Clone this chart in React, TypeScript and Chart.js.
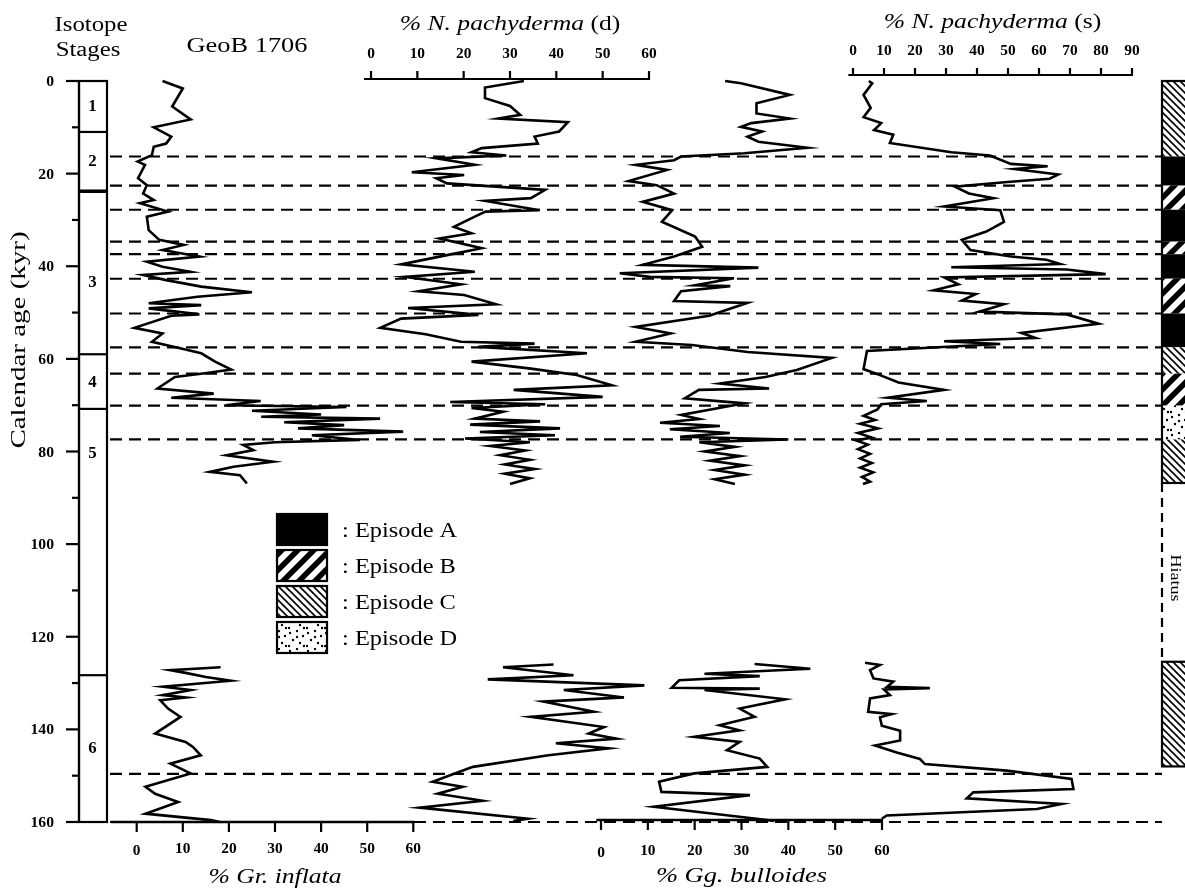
import React, { useEffect, useRef } from 'react';
import { Chart, registerables } from 'chart.js';

Chart.register(...registerables);

// ---------------- data ----------------
const ageTicks = [0, 20, 40, 60, 80, 100, 120, 140, 160];
const ageMinorTicks = [10, 30, 50, 70, 90, 110, 130, 150];
const pctTicks60 = [0, 10, 20, 30, 40, 50, 60];
const pctTicks90 = [0, 10, 20, 30, 40, 50, 60, 70, 80, 90];

const stageBounds = [11, 23.8, 59, 70.8, 128.3];
const stageNames = ['1', '2', '3', '4', '5', '6'];
const stageNameAges = [5.2, 17, 43.2, 64.8, 80, 143.8];

const dashAges = [16.3, 22.6, 27.8, 34.7, 37.4, 42.7, 50.2, 57.5, 63.2, 70.1, 77.4, 149.6, 160];

const episodeFrom = [0, 16.3, 22.6, 27.8, 34.7, 37.4, 42.7, 50.2, 57.5, 63.2, 70.1, 77.4, 125.4];
const episodeTo = [16.3, 22.6, 27.8, 34.7, 37.4, 42.7, 50.2, 57.5, 63.2, 70.1, 77.4, 86.8, 148];
const episodeKind = ['C', 'A', 'B', 'A', 'B', 'A', 'B', 'A', 'C', 'B', 'D', 'C', 'C'];
const hiatusAges = [86.8, 125.4];
const hiatusLabelAge = 107.3;

const legendKinds = ['A', 'B', 'C', 'D'];
const legendNames = [': Episode A', ': Episode B', ': Episode C', ': Episode D'];

// % Gr. inflata
const inflataAge = [0, 1.6, 5.5, 8.3, 10, 12, 13.5, 14.2, 16, 17.4, 18.1, 21, 22.5, 24.3, 25.7, 26.4, 28.2, 29.3, 32.2, 34.3,
  35.4, 36.5, 37.9, 39, 40.1, 41.2, 41.9, 43, 44.4, 45.6, 46.6, 48, 48.4, 49.1, 50.4, 50.7, 53.3, 54.5, 56.3, 57.7,
  58.8, 60.6, 62.3, 63.1, 63.9, 66.4, 67.5, 68.4, 69.1, 70, 70.4, 71.2, 72, 72.5, 72.9, 73.7, 74.3, 75, 75.7, 76.5,
  77.5, 78, 78.6, 79.7, 80.8, 82.2, 83.3, 84.4, 85.1, 86.9,
  100,
  126.6, 127.2, 127.8, 128.7, 129.5, 130.8, 131.5, 132.6, 133.1, 133.7, 135.5, 137.3, 140.9, 142.7, 143.8, 145.6,
  147.4, 149.5, 152.4, 153.9, 155.7, 158.2, 159.6, 160];
const inflataPct = [5.6, 10, 7.7, 11.7, 3.7, 7.5, 6.4, 3.7, 3.3, 0.2, 1.8, 0.3, 2.2, 1.4, 3.7, 0.7, 6.8, 2.2, 2.6, 4.9,
  10.2, 5.6, 13.6, 2.2, 5.6, 11.7, 1.4, 6.4, 14, 25, 13.2, 2.6, 14, 2.6, 13.6, 7.5, -0.5, 5.6, 3.3, 9.4,
  14, 17, 20.5, 14.8, 8.3, 4.5, 16.7, 7.5, 26.9, 19.3, 45.5, 25, 40, 27, 52.8, 32, 45, 35, 57.8, 38,
  48.4, 30, 23.1, 25.3, 19.5, 29.6, 21, 15.9, 22.4, 23.9,
  null,
  18.2, 7.3, 10.6, 15, 20.4, 5.7, 11.7, 5.7, 10.6, 5.1, 6.8, 9.5, 4, 10.6, 12.2, 13.9,
  7.3, 11.7, 1.9, 4, 9, 1.9, 16.1, 18];

// % N. pachyderma (d)
const pachyDAge = [0, 1.4, 3.7, 5.4, 7.3, 8.1, 8.9, 10.9, 12, 13.5, 14.5, 15.4, 16.1, 16.7, 18.1, 19.7, 20.3, 21, 22.1, 23.5,
  25.3, 25.9, 27.9, 28.2, 29.3, 31.5, 32.9, 34, 36.1, 37.6, 39.6, 41.2, 42.3, 43.9, 45.4, 46.2, 48.2, 49, 50.5, 51.3,
  53.3, 54.7, 56.3, 56.7, 57.4, 58.8, 60.6, 62.1, 63.5, 65.7, 66.7, 68.2, 69.3, 69.8, 70.6, 71.4, 72.9, 73.5, 74.2, 75,
  75.8, 76.5, 77.2, 78, 78.8, 79.8, 80.8, 81.8, 82.8, 83.8, 84.8, 85.8, 87,
  100,
  126, 126.6, 128.3, 129.2, 130.5, 131.5, 133.1, 134, 136.2, 137.3, 139.5, 140.9, 142, 143, 144.1, 145.6, 148.1,
  151.3, 152.4, 153.9, 155.4, 156.9, 159.3, 159.8];
const pachyDPct = [33, 24.6, 24.6, 30, 32.2, 27.5, 42.5, 40.6, 35.3, 36, 23.9, 21.7, 29.2, 14.1, 22.4, 8.8, 20.1, 14.1, 16.4, 37.6,
  34.5, 24.7, 36.4, 24.7, 22.4, 17.9, 21.7, 14.8, 23.9, 16.4, 6.5, 22.4, 7.3, 19.4, 10.3, 20.1, 27, 8, 23.2, 6.5,
  2, 11.8, 19.4, 35.3, 23.2, 46.6, 21.7, 34.5, 44.4, 52, 30.8, 50, 17.1, 37.6, 21.7, 28.5, 22.4, 36.5, 21.4, 40.8,
  23.5, 39.7, 20.3, 34.3, 25.7, 33.3, 27.9, 34.3, 28.9, 35.4, 28.9, 34.3, 30,
  null,
  39.4, 28.5, 43.7, 25.2, 59, 41.6, 54.6, 37.2, 48.1, 34.5, 50.3, 47, 53, 39.9, 51.3, 38.3, 22,
  13.3, 19.8, 14.4, 24.1, 10.5, 33.9, 30.7];

// % Gg. bulloides
const bulloidesAge = [0, 0.5, 3, 4.8, 7, 8.1, 9.1, 9.9, 10.9, 12, 13.1, 14.4, 15.6, 16.3, 17.1, 18.1, 19.2, 21.6, 22.5, 24.3,
  26.1, 27.9, 30.4, 33.6, 35.8, 37.9, 39.7, 40.3, 41.5, 42.3, 42.6, 44.1, 44.3, 45.4, 47.5, 47.9, 50.7, 53.1, 54.5, 56.3,
  57, 58.5, 59.8, 62.4, 63.9, 65.3, 66.4, 66.7, 68.5, 69.6, 70.7, 72.1, 73, 73.8, 74.5, 75.2, 76, 76.8, 77.4, 78,
  79, 80, 81, 82, 83, 84, 85, 86, 87,
  100,
  125.9, 126.9, 128, 128.5, 129.4, 131, 131.2, 131.5, 133.5, 135.5, 137.3, 139.1, 140.2, 141.6, 142.7, 144.5, 146.3,
  148.1, 149.5, 151.3, 153.5, 154.2, 156.7, 159.5, 159.8];
const bulloidesPct = [26.5, 29.9, 40.3, 33.2, 33.2, 40.3, 32.1, 29.9, 34.4, 31.3, 33.6, 44.1, 30.6, 17.1, 15.6, 7.4, 14.1, 5.9, 11.9, 15.6,
  8.9, 15.2, 13, 20.1, 21.6, 15.6, 8.9, 33.6, 4, 10.4, 28.4, 20.1, 27.6, 17.1, 15.6, 31.3, 23.1, 7.4, 14.9, 7.4,
  19.4, 31.3, 49.3, 41.8, 35.1, 25.4, 35.9, 20.9, 17.9, 30.6, 24.6, 17.1, 21, 12.6, 25.4, 14.7, 27.5, 16.9, 40, 21,
  28.6, 22.2, 29.7, 23.3, 30.7, 24.3, 30.7, 24.3, 28.6,
  null,
  32.8, 44.7, 22.1, 33.9, 16.7, 15.1, 33.9, 22.1, 39.3, 29.6, 32.8, 25.3, 29.6, 19.9, 29.6, 26.9, 33.9,
  35.5, 19.9, 12.4, 12.9, 31.8, 11.3, 35, 37];

// % N. pachyderma (s)
const pachySAge = [0, 0.5, 3, 5.8, 7.8, 9.1, 10.6, 11.6, 13.4, 15.4, 16.1, 17.9, 18.4, 19, 20.2, 21.1, 21.8, 22.8, 24.3, 25.3,
  27.1, 27.9, 30.4, 32.5, 34.3, 36.5, 37.9, 38.6, 39.5, 40.2, 40.7, 41.7, 42.4, 43.9, 45.2, 46, 47.4, 48.2, 49.8, 50.4,
  52.4, 54.4, 55.5, 56.2, 56.8, 58.3, 62.2, 63.3, 65.1, 66.7, 68.4, 69.1, 69.8, 70.9, 72.3, 73.2, 74, 75, 76, 77,
  77.6, 78.5, 79.5, 80.5, 81.5, 82.5, 83.5, 84.5, 85.5, 86.5, 87,
  100,
  125.6, 126.1, 127.2, 129, 129.7, 130.8, 131.1, 131.4, 132.6, 133.3, 136.2, 136.7, 137.4, 139.2, 140.3, 142.4, 143.5,
  145, 146.4, 147.5, 148.9, 150.7, 152.9, 153.6, 154.9, 156.1, 157.2, 158.6, 159.3];
const pachySPct = [5.1, 6.2, 3.4, 5.7, 3.4, 9.1, 6.8, 13, 11.9, 31.7, 44.2, 50.9, 62.8, 52.1, 66.2, 63.4, 49.8, 32.8, 37.4, 45.3,
  29.4, 47.5, 48.7, 43, 35.1, 37.9, 50.9, 62.3, 66.8, 31.7, 69, 81.5, 29.4, 34, 26, 39.6, 35.1, 48.7, 40.7, 69,
  79.2, 54.3, 58.9, 29.4, 47.5, 4.5, 3.4, 7.9, 14.7, 29.4, 11.3, 23.8, 9.1, 7.9, 3.4, 7.1, 2.3, 8.1, 1.6, 6.1,
  1, 4.8, 1.6, 5.5, 2.3, 6.1, 2.3, 6.5, 2.9, 5.5, 3.2,
  null,
  3.9, 8.7, 5.5, 6.6, 13, 11, 24.8, 10, 11.9, 5.5, 4.9, 12.5, 8.7, 9.3, 15.2, 15.2, 7.1,
  14.1, 21.6, 23.2, 49.6, 70.5, 71.1, 38.8, 36.7, 67.3, 59.3, 10.9, 9.3];

// ---------------- layout ----------------
const W = 1185;
const H = 891;
const AREA = { left: 79, right: 1185, top: 81, bottom: 822 };
// pixel positions of the first and last tick of each percentage axis
const AXIS_PIX: Record<string, { p0: number; p1: number; vmax: number }> = {
  xInf: { p0: 136.7, p1: 413.3, vmax: 60 },
  xPd: { p0: 371, p1: 649, vmax: 60 },
  xBul: { p0: 601, p1: 882, vmax: 60 },
  xPs: { p0: 853, p1: 1132, vmax: 90 },
};
function span(id: string) {
  const { p0, p1, vmax } = AXIS_PIX[id];
  const u = vmax / (p1 - p0);
  return { min: -(p0 - AREA.left) * u, max: vmax + (AREA.right - p1) * u };
}

const SERIF = "'Liberation Serif', 'Times New Roman', serif";
const SX = 1.22;

function drawText(ctx: CanvasRenderingContext2D, s: string, x: number, y: number, font: string,
  align: CanvasTextAlign = 'center', sx = SX, rot = 0) {
  ctx.save();
  ctx.translate(x, y);
  if (rot) ctx.rotate(rot);
  ctx.scale(sx, 1);
  ctx.font = font;
  ctx.textAlign = align;
  ctx.textBaseline = 'alphabetic';
  ctx.fillStyle = '#000';
  ctx.fillText(s, 0, 0);
  ctx.restore();
}

function drawMixed(ctx: CanvasRenderingContext2D, parts: { text: string; font: string }[], cx: number, y: number, sx = SX) {
  const widths = parts.map((p) => { ctx.font = p.font; return ctx.measureText(p.text).width * sx; });
  const total = widths.reduce((a, b) => a + b, 0);
  let x = cx - total / 2;
  parts.forEach((p, i) => { drawText(ctx, p.text, x, y, p.font, 'left', sx); x += widths[i]; });
}

function seg(ctx: CanvasRenderingContext2D, x1: number, y1: number, x2: number, y2: number) {
  ctx.beginPath();
  ctx.moveTo(x1, y1);
  ctx.lineTo(x2, y2);
  ctx.stroke();
}

const patternCache: Record<string, CanvasPattern | string> = {};
function fillFor(ctx: CanvasRenderingContext2D, kind: string): CanvasPattern | string {
  if (kind === 'A') return '#000';
  if (patternCache[kind]) return patternCache[kind];
  const c = document.createElement('canvas');
  let g: CanvasRenderingContext2D;
  if (kind === 'B') {
    c.width = 16; c.height = 16;
    g = c.getContext('2d')!;
    g.fillStyle = '#fff'; g.fillRect(0, 0, 16, 16);
    g.strokeStyle = '#000'; g.lineWidth = 5.5;
    for (const k of [-16, 0, 16]) { g.beginPath(); g.moveTo(k - 3, 19); g.lineTo(k + 19, -3); g.stroke(); }
  } else if (kind === 'C') {
    c.width = 7; c.height = 7;
    g = c.getContext('2d')!;
    g.fillStyle = '#fff'; g.fillRect(0, 0, 7, 7);
    g.strokeStyle = '#000'; g.lineWidth = 1.7;
    for (const k of [-7, 0, 7]) { g.beginPath(); g.moveTo(k - 2, -2); g.lineTo(k + 9, 9); g.stroke(); }
  } else {
    c.width = 18; c.height = 18;
    g = c.getContext('2d')!;
    g.fillStyle = '#fff'; g.fillRect(0, 0, 18, 18);
    g.fillStyle = '#000';
    const dots = [[2, 3], [9, 1], [15, 6], [5, 10], [12, 13], [1, 16], [16, 16], [9, 7]];
    dots.forEach(([x, y]) => { g.beginPath(); g.arc(x, y, 1.2, 0, Math.PI * 2); g.fill(); });
  }
  const p = ctx.createPattern(c, 'repeat')!;
  patternCache[kind] = p;
  return p;
}

const decorPlugin = {
  id: 'decor',
  beforeDatasetsDraw(chart: any) {
    const { ctx, chartArea, scales } = chart;
    const Y = (a: number) => scales.y.getPixelForValue(a);
    const stageRight = chartArea.left + 28;
    const epLeft = chartArea.right - 23;
    ctx.save();
    ctx.strokeStyle = '#000';
    ctx.lineWidth = 2.2;
    ctx.setLineDash([12, 7]);
    dashAges.forEach((a) => seg(ctx, stageRight + 3, Y(a), epLeft, Y(a)));
    ctx.restore();
  },
  afterDatasetsDraw(chart: any) {
    const { ctx, chartArea, scales } = chart;
    const Y = (a: number) => scales.y.getPixelForValue(a);
    const L = chartArea.left;
    ctx.save();
    ctx.strokeStyle = '#000';
    ctx.fillStyle = '#000';
    ctx.lineCap = 'butt';

    // header
    drawText(ctx, 'Isotope', 91, 31, `20px ${SERIF}`, 'center', 1.24);
    drawText(ctx, 'Stages', 88, 56, `20px ${SERIF}`, 'center', 1.24);
    drawText(ctx, 'GeoB 1706', 247, 52, `22px ${SERIF}`, 'center', 1.2);

    // age axis
    ctx.lineWidth = 2.2;
    seg(ctx, L, Y(0), L, Y(160));
    ageTicks.forEach((a) => seg(ctx, L - 13, Y(a), L, Y(a)));
    ageMinorTicks.forEach((a) => seg(ctx, L - 7, Y(a), L, Y(a)));
    ageTicks.forEach((a) => drawText(ctx, String(a), L - 25, Y(a) + 5, `bold 14px ${SERIF}`, 'right', 1.12));
    drawText(ctx, 'Calendar age (kyr)', 25, 340, `21px ${SERIF}`, 'center', 1.38, -Math.PI / 2);

    // isotope stage column
    const sw = 28;
    ctx.lineWidth = 2.2;
    ctx.strokeRect(L, Y(0), sw, Y(160) - Y(0));
    stageBounds.forEach((b) => {
      ctx.lineWidth = b === 23.8 ? 3.5 : 2.2;
      seg(ctx, L, Y(b), L + sw, Y(b));
    });
    stageNames.forEach((n, i) => drawText(ctx, n, L + 13.5, Y(stageNameAges[i]) + 6, `bold 16px ${SERIF}`, 'center', 1.05));

    // top percentage axes
    const topAxis = (id: string, ticks: number[], yLine: number, labelY: number, tl: number) => {
      const s = scales[id];
      const X = (v: number) => s.getPixelForValue(v);
      ctx.lineWidth = 2.2;
      seg(ctx, X(-1.5), yLine, X(ticks[ticks.length - 1]) + 1, yLine);
      ticks.forEach((t) => {
        seg(ctx, X(t), yLine - tl, X(t), yLine);
        drawText(ctx, String(t), X(t), labelY, `bold 14px ${SERIF}`, 'center', 1.1);
      });
    };
    topAxis('xPd', pctTicks60, Y(0) - 2, 58, 8);
    topAxis('xPs', pctTicks90, Y(0) - 6, 55, 7);
    const midOf = (id: string, vmax: number) => (scales[id].getPixelForValue(0) + scales[id].getPixelForValue(vmax)) / 2;
    drawMixed(ctx, [{ text: '% N. pachyderma', font: `italic 21px ${SERIF}` }, { text: ' (d)', font: `21px ${SERIF}` }], midOf('xPd', 60), 30);
    drawMixed(ctx, [{ text: '% N. pachyderma', font: `italic 21px ${SERIF}` }, { text: ' (s)', font: `21px ${SERIF}` }], midOf('xPs', 90), 28);

    // bottom percentage axes
    const bottomAxis = (id: string, ticks: number[], yLine: number, labelY: number, tl: number, from: number) => {
      const s = scales[id];
      const X = (v: number) => s.getPixelForValue(v);
      ctx.lineWidth = 2.5;
      seg(ctx, X(from), yLine, X(ticks[ticks.length - 1]) + 1, yLine);
      ctx.lineWidth = 2.2;
      ticks.forEach((t) => {
        seg(ctx, X(t), yLine, X(t), yLine + tl);
        drawText(ctx, String(t), X(t), labelY + (t === 0 ? 2 : 0), `bold 14px ${SERIF}`, 'center', 1.1);
      });
    };
    bottomAxis('xInf', pctTicks60, Y(160), 853, 10, -5.6);
    bottomAxis('xBul', pctTicks60, Y(160) - 2, 855, 10, -1);
    drawText(ctx, '% Gr. inflata', midOf('xInf', 60), 883, `italic 21px ${SERIF}`, 'center', 1.22);
    drawText(ctx, '% Gg. bulloides', midOf('xBul', 60), 882, `italic 21px ${SERIF}`, 'center', 1.26);

    // episode column
    const epLeft = chartArea.right - 23;
    const epW = 40;
    episodeKind.forEach((k, i) => {
      ctx.fillStyle = fillFor(ctx, k);
      ctx.fillRect(epLeft, Y(episodeFrom[i]), epW, Y(episodeTo[i]) - Y(episodeFrom[i]));
    });
    ctx.lineWidth = 2.2;
    ctx.strokeRect(epLeft, Y(0), epW, Y(hiatusAges[0]) - Y(0));
    ctx.strokeRect(epLeft, Y(hiatusAges[1]), epW, Y(episodeTo[episodeTo.length - 1]) - Y(hiatusAges[1]));
    ctx.save();
    ctx.setLineDash([9, 6]);
    seg(ctx, epLeft, Y(hiatusAges[0]), epLeft, Y(hiatusAges[1]));
    ctx.restore();
    drawText(ctx, 'Hiatus', epLeft + 9, Y(hiatusLabelAge), `15px ${SERIF}`, 'center', 1.2, Math.PI / 2);

    // legend
    legendKinds.forEach((k, i) => {
      const top = 514 + i * 36;
      ctx.fillStyle = fillFor(ctx, k);
      ctx.fillRect(277, top, 50, 31);
      ctx.lineWidth = 2.2;
      ctx.strokeRect(277, top, 50, 31);
      drawText(ctx, legendNames[i], 342, top + 23, `20px ${SERIF}`, 'left', 1.22);
    });
    ctx.restore();
  },
};

function series(ages: number[], vals: (number | null)[], axis: string) {
  return {
    data: ages.map((a, i) => ({ x: vals[i], y: a })),
    xAxisID: axis,
    yAxisID: 'y',
    borderColor: '#000',
    borderWidth: 2.6,
    borderJoinStyle: 'miter' as const,
    pointRadius: 0,
    tension: 0,
    fill: false,
    spanGaps: false,
    clip: false as const,
  };
}

export default function App() {
  const ref = useRef<HTMLCanvasElement | null>(null);
  useEffect(() => {
    if (!ref.current) return;
    const chart = new Chart(ref.current, {
      type: 'line',
      data: {
        datasets: [
          series(inflataAge, inflataPct, 'xInf'),
          series(pachyDAge, pachyDPct, 'xPd'),
          series(bulloidesAge, bulloidesPct, 'xBul'),
          series(pachySAge, pachySPct, 'xPs'),
        ] as any,
      },
      options: {
        animation: false,
        responsive: false,
        indexAxis: 'y',
        layout: { padding: { left: AREA.left, right: W - AREA.right, top: AREA.top, bottom: H - AREA.bottom } },
        plugins: { legend: { display: false }, tooltip: { enabled: false }, title: { display: false } },
        scales: {
          y: { type: 'linear', reverse: true, min: 0, max: 160, display: false },
          xInf: { type: 'linear', axis: 'x', ...span('xInf'), display: false },
          xPd: { type: 'linear', axis: 'x', ...span('xPd'), display: false },
          xBul: { type: 'linear', axis: 'x', ...span('xBul'), display: false },
          xPs: { type: 'linear', axis: 'x', ...span('xPs'), display: false },
        } as any,
      },
      plugins: [decorPlugin],
    });
    return () => chart.destroy();
  }, []);
  return (
    <div style={{ position: 'absolute', left: 0, top: 0, width: W, height: H, background: '#fff' }}>
      <canvas ref={ref} width={W} height={H} style={{ display: 'block' }} />
    </div>
  );
}
